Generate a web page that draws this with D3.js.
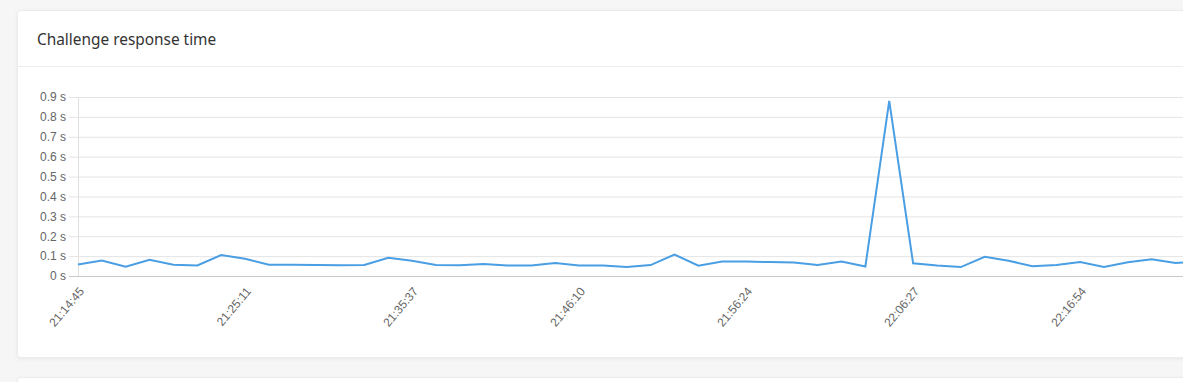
<!DOCTYPE html>
<html>
<head>
<meta charset="utf-8">
<script src="https://cdn.jsdelivr.net/npm/d3@7"></script>
<style>
  html, body { margin: 0; padding: 0; }
  body { width: 1183px; height: 382px; overflow: hidden; background: #f6f6f6; position: relative; }
  .card { position: absolute; left: 17px; width: 1200px; background: #fff;
          border: 1px solid #ececec; border-radius: 3px; box-shadow: 0 1px 4px rgba(0,0,0,0.06); }
  svg { position: absolute; left: 0; top: 0; }
</style>
</head>
<body>
<div class="card" style="top:10px;height:346px"></div>
<div class="card" style="top:377px;height:40px"></div>
<div id="chart"></div>
<script>
// response time per check (seconds)
var values = [0.058, 0.078, 0.047, 0.082, 0.057, 0.053, 0.105, 0.087, 0.057, 0.057,
              0.055, 0.054, 0.055, 0.092, 0.077, 0.055, 0.054, 0.060, 0.053, 0.053,
              0.065, 0.053, 0.053, 0.045, 0.055, 0.108, 0.052, 0.073, 0.073, 0.070,
              0.068, 0.055, 0.073, 0.048, 0.880, 0.064, 0.053, 0.045, 0.097, 0.077,
              0.049, 0.055, 0.070, 0.045, 0.069, 0.084, 0.065, 0.075]
// labelled points on the x axis
var tickIndex = [0, 7, 14, 21, 28, 35, 42]
var tickLabels = ["21:14:45", "21:25:11", "21:35:37", "21:46:10", "21:56:24", "22:06:27", "22:16:54"]
var yTicks = [0, 0.1, 0.2, 0.3, 0.4, 0.5, 0.6, 0.7, 0.8, 0.9]

var svg = d3.select("#chart").append("svg")
  .attr("width", 1183)
  .attr("height", 382)

// card header
svg.append("text")
  .attr("x", 37).attr("y", 45)
  .style("font-family", "'Noto Sans', sans-serif")
  .style("font-size", "15.4px")
  .style("fill", "#333")
  .text("Challenge response time")
svg.append("line")
  .attr("x1", 18).attr("x2", 1183).attr("y1", 66.5).attr("y2", 66.5)
  .style("stroke", "#ededed")

var x = d3.scaleLinear()
  .domain([0, values.length - 1])
  .range([78, 78 + (values.length - 1) * 23.86])
var y = d3.scaleLinear()
  .domain([0, 0.9])
  .range([276, 97])

// y axis with grid
var yAxis = svg.append("g")
  .attr("transform", "translate(78,0)")
  .call(d3.axisLeft(y).tickValues(yTicks).tickSize(-1200).tickPadding(12)
    .tickFormat(d => d3.format(".1~f")(d) + " s"))
yAxis.select(".domain").remove()
yAxis.selectAll(".tick line")
  .attr("x1", -9)
  .style("stroke", (d) => d === 0 ? "#c8c8c8" : "#e4e4e4")
yAxis.selectAll(".tick text")
  .style("font-family", "'Liberation Sans', Arial, sans-serif")
  .style("font-size", "12px")
  .style("fill", "#666")
svg.append("line")
  .attr("x1", 78.5).attr("x2", 78.5).attr("y1", y(0.9)).attr("y2", y(0))
  .style("stroke", "#e0e0e0")

// x axis labels
var xAxis = svg.append("g")
  .attr("transform", "translate(0,276)")
  .call(d3.axisBottom(x).tickValues(tickIndex).tickSize(0)
    .tickFormat((d, i) => tickLabels[i]))
xAxis.select(".domain").remove()
xAxis.selectAll(".tick text")
  .attr("text-anchor", "end")
  .attr("y", 0).attr("dy", "0.35em")
  .attr("transform", "translate(3,13) rotate(-50)")
  .style("font-family", "'Liberation Sans', Arial, sans-serif")
  .style("font-size", "12px")
  .style("fill", "#666")

// the line
var line = d3.line()
  .x((d, i) => x(i))
  .y(d => y(d))
svg.append("path")
  .datum(values)
  .attr("d", line)
  .style("fill", "none")
  .style("stroke", "#4a9ee3")
  .style("stroke-width", 2)
</script>
</body>
</html>
